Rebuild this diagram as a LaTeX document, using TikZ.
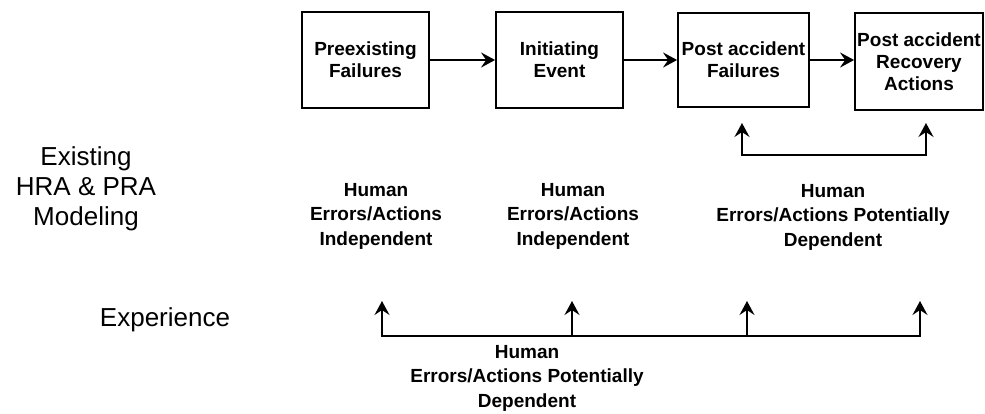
\documentclass[tikz,border=0pt]{standalone}
\usepackage{fontspec}
\setmainfont{Liberation Sans}
\usetikzlibrary{arrows.meta}
\begin{document}
\begin{tikzpicture}[x=1pt,y=-1pt,
  boxst/.style={draw, line width=1.8pt, minimum width=127pt, minimum height=96pt, inner sep=0pt, align=center, font=\fontsize{19}{22}\selectfont\bfseries},
  lbl/.style={align=center, inner sep=0pt, font=\fontsize{19}{24.5}\selectfont\bfseries},
  side/.style={align=center, inner sep=0pt, font=\fontsize{26}{30}\selectfont},
  arr/.style={-{Stealth[length=14pt,width=15pt,inset=5pt]}, line width=1.8pt},
  dbl/.style={{Stealth[length=14pt,width=15pt,inset=5pt]}-{Stealth[length=14pt,width=15pt,inset=5pt]}, line width=1.8pt}]
\useasboundingbox (0,0) rectangle (985,413);
% boxes
\node[boxst] (b1) at (365.5,60) {Preexisting\\Failures};
\node[boxst] (b2) at (559.5,60) {Initiating\\Event};
\node[boxst, minimum width=131pt, minimum height=94pt] (b3) at (743.5,60) {Post accident\\Failures};
\node[boxst, minimum width=128pt, minimum height=97pt] (b4) at (919,61.5) {Post accident\\Recovery\\Actions};
\draw[arr] (b1) -- (b2);
\draw[arr] (b2) -- (b3);
\draw[arr] (b3.east) -- (b3.east -| b4.west);
% row labels
\node[side] (model) at (86,189) {Existing\\HRA \& PRA\\Modeling};
\node[side] (exp) at (165,320) {Experience};
% human labels
\node[lbl] (h1) at (376,216) {Human\\Errors/Actions\\Independent};
\node[lbl] (h2) at (573,216) {Human\\Errors/Actions\\Independent};
\node[lbl] (h3) at (833,217) {Human\\Errors/Actions Potentially\\Dependent};
\node[lbl] (h4) at (527,378) {Human\\Errors/Actions Potentially\\Dependent};
% dependency arrows between post accident boxes
\coordinate (t3) at (742,123);
\coordinate (t4) at (926,123);
\draw[dbl] (t3) -- ++(0,32) -| (t4);
% experience arrows
\coordinate (e1) at (382,301);
\coordinate (e2) at (572,301);
\coordinate (e3) at (747,301);
\coordinate (e4) at (920,301);
\coordinate (bl) at (382,336);
\draw[dbl] (e1) -- (bl) -| (e4);
\draw[arr] (e2 |- bl) -- (e2);
\draw[arr] (e3 |- bl) -- (e3);
\end{tikzpicture}
\end{document}
